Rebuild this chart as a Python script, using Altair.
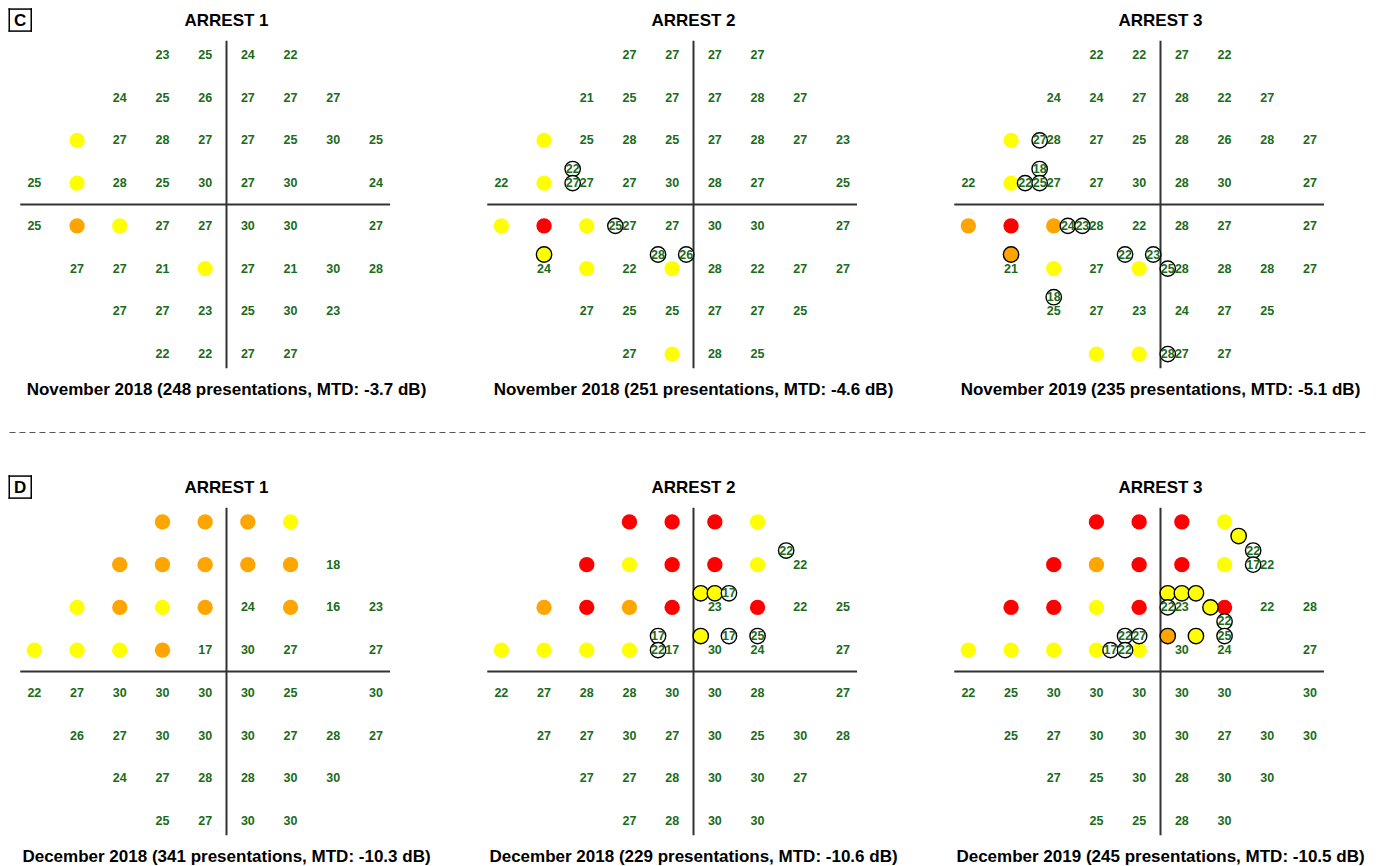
import altair as alt
import pandas as pd

# ---------------- data ----------------
# test-point rows of the field (grid units), top to bottom
ROW_Y = [3.5, 2.5, 1.5, 0.5, -0.5, -1.5, -2.5, -3.5]
ROW_X0 = [-1.5, -2.5, -3.5, -4.5, -4.5, -3.5, -2.5, -1.5]
N = None  # blind spot / not tested

# numbers = sensitivity (dB); "Y"/"O"/"R" = yellow / orange / red defect
P1_GRID = [
    [23, 25, 24, 22],
    [24, 25, 26, 27, 27, 27],
    ["Y", 27, 28, 27, 27, 25, 30, 25],
    [25, "Y", 28, 25, 30, 27, 30, N, 24],
    [25, "O", "Y", 27, 27, 30, 30, N, 27],
    [27, 27, 21, "Y", 27, 21, 30, 28],
    [27, 27, 23, 25, 30, 23],
    [22, 22, 27, 27],
]
P1_EXTRA = []

P2_GRID = [
    [27, 27, 27, 27],
    [21, 25, 27, 27, 28, 27],
    ["Y", 25, 28, 25, 27, 28, 27, 23],
    [22, "Y", 27, 27, 30, 28, 27, N, 25],
    ["Y", "R", "Y", 27, 27, 30, 30, N, 27],
    [24, "Y", 22, "Y", 28, 22, 27, 27],
    [27, 25, 25, 27, 27, 25],
    [27, "Y", 28, 25],
]
P2_EXTRA = [(-2.83, 0.83, 22), (-2.83, 0.5, 27), (-1.83, -0.5, 25),
            (-3.5, -1.17, "Y"), (-0.83, -1.17, 28), (-0.17, -1.17, 26)]

P3_GRID = [
    [22, 22, 27, 22],
    [24, 24, 27, 28, 22, 27],
    ["Y", 28, 27, 25, 28, 26, 28, 27],
    [22, "Y", 27, 27, 30, 28, 30, N, 27],
    ["O", "R", "O", 28, 22, 28, 27, N, 27],
    [21, "Y", 27, "Y", 28, 28, 28, 27],
    [25, 27, 23, 24, 27, 25],
    ["Y", "Y", 27, 27],
]
P3_EXTRA = [(-2.83, 1.5, 27), (-2.83, 0.83, 18), (-3.17, 0.5, 22), (-2.83, 0.5, 25),
            (-2.17, -0.5, 24), (-1.83, -0.5, 23), (-3.5, -1.17, "O"),
            (-0.83, -1.17, 22), (-0.17, -1.17, 23), (0.17, -1.5, 25),
            (-2.5, -2.17, 18), (0.17, -3.5, 28)]

P4_GRID = [
    ["O", "O", "O", "Y"],
    ["O", "O", "O", "O", "O", 18],
    ["Y", "O", "Y", "O", 24, "O", 16, 23],
    ["Y", "Y", "Y", "O", 17, 30, 27, N, 27],
    [22, 27, 30, 30, 30, 30, 25, N, 30],
    [26, 27, 30, 30, 30, 27, 28, 27],
    [24, 27, 28, 28, 30, 30],
    [25, 27, 30, 30],
]
P4_EXTRA = []

P5_GRID = [
    ["R", "R", "R", "Y"],
    ["R", "Y", "R", "R", "Y", 22],
    ["O", "R", "O", "R", 23, "R", 22, 25],
    ["Y", "Y", "Y", "Y", 17, 30, 24, N, 27],
    [22, 27, 28, 28, 30, 30, 28, N, 27],
    [27, 27, 30, 27, 30, 25, 30, 28],
    [27, 27, 28, 30, 30, 27],
    [27, 28, 30, 30],
]
P5_EXTRA = [(2.17, 2.83, 22), (0.17, 1.83, "Y"), (0.5, 1.83, "Y"), (0.83, 1.83, 17),
            (-0.83, 0.83, 17), (-0.83, 0.5, 22), (0.17, 0.83, "Y"),
            (0.83, 0.83, 17), (1.5, 0.83, 25)]

P6_GRID = [
    ["R", "R", "R", "Y"],
    ["R", "O", "R", "R", "Y", 22],
    ["R", "R", "Y", "R", 23, "R", 22, 28],
    ["Y", "Y", "Y", "Y", "Y", 30, 24, N, 27],
    [22, 25, 30, 30, 30, 30, 30, N, 30],
    [25, 27, 30, 30, 30, 27, 30, 30],
    [27, 25, 30, 28, 30, 30],
    [25, 25, 28, 30],
]
P6_EXTRA = [(1.83, 3.17, "Y"), (2.17, 2.83, 22), (2.17, 2.5, 17),
            (0.17, 1.83, "Y"), (0.5, 1.83, "Y"), (0.83, 1.83, "Y"),
            (0.17, 1.5, 22), (1.17, 1.5, "Y"), (1.5, 1.17, 22),
            (-0.83, 0.83, 22), (-0.5, 0.83, 27), (0.17, 0.83, "O"),
            (0.83, 0.83, "Y"), (1.5, 0.83, 25), (-1.17, 0.5, 17), (-0.83, 0.5, 22)]

TITLES = ["ARREST 1", "ARREST 2", "ARREST 3", "ARREST 1", "ARREST 2", "ARREST 3"]
SUBTITLES = [
    "November 2018 (248 presentations, MTD: -3.7 dB)",
    "November 2018 (251 presentations, MTD: -4.6 dB)",
    "November 2019 (235 presentations, MTD: -5.1 dB)",
    "December 2018 (341 presentations, MTD: -10.3 dB)",
    "December 2018 (229 presentations, MTD: -10.6 dB)",
    "December 2019 (245 presentations, MTD: -10.5 dB)",
]
PANEL_LABELS = ["C", None, None, "D", None, None]

# ---------------- style / layout ----------------
COLORS = {"Y": "#ffff00", "O": "#ffa500", "R": "#ff0000"}
GREEN = "#1a6b1a"
FONT = "Liberation Sans"
DOT = 236
K = 42.7                      # pixels per grid unit
W, H = 393, 359
XS = alt.Scale(domain=[-5, W / K - 5], nice=False, zero=False)
YS = alt.Scale(domain=[-4.2, 4.2], nice=False, zero=False)
TITLE_Y, SUB_Y = 4.176, -4.45
# panel-letter box (pixels relative to the panel centre)
BOX_CX, BOX_CY, BOX_HALF, BOX_LW = -206.25, 184.25, 11.75, 1.5


def panel(grid, extra, title, subtitle, label=None, separator=False):
    recs = []
    for ri, row in enumerate(grid):
        for ci, v in enumerate(row):
            if v is None:
                continue
            x, y = ROW_X0[ri] + ci, ROW_Y[ri]
            if isinstance(v, str):
                recs.append(dict(x=x, y=y, kind="dot", fill=COLORS[v], label=""))
            else:
                recs.append(dict(x=x, y=y, kind="num", fill="white", label=str(v)))
    for (x, y, v) in extra:
        if isinstance(v, str):
            recs.append(dict(x=x, y=y, kind="extra", fill=COLORS[v], label=""))
        else:
            recs.append(dict(x=x, y=y, kind="extra", fill="white", label=str(v)))
    df = pd.DataFrame(recs)

    X = alt.X("x:Q", scale=XS, axis=None)
    Y = alt.Y("y:Q", scale=YS, axis=None)

    axes_df = pd.DataFrame([
        dict(x=-4.83, x2=3.83, y=0, y2=0),
        dict(x=0, x2=0, y=-3.83, y2=3.83),
    ])
    axes = alt.Chart(axes_df).mark_rule(color="#333333", strokeWidth=2).encode(
        x=X, x2="x2:Q", y=Y, y2="y2:Q")

    base = alt.Chart(df)
    dots = base.transform_filter("datum.kind == 'dot'").mark_circle(
        size=DOT, opacity=1).encode(x=X, y=Y, color=alt.Color("fill:N", scale=None))
    nums = base.transform_filter("datum.kind == 'num'").mark_text(
        font=FONT, fontSize=12.5, fontWeight="bold", color=GREEN,
        baseline="middle", align="center").encode(x=X, y=Y, text="label:N")
    ext = base.transform_filter("datum.kind == 'extra'").mark_point(
        shape="circle", filled=True, size=DOT, stroke="black", strokeWidth=1.4,
        opacity=1, strokeOpacity=1).encode(x=X, y=Y, fill=alt.Fill("fill:N", scale=None))
    ext_t = base.transform_filter("datum.kind == 'extra' && datum.label != ''").mark_text(
        font=FONT, fontSize=12.5, fontWeight="bold", color=GREEN,
        baseline="middle", align="center").encode(x=X, y=Y, text="label:N")

    tdf = pd.DataFrame([dict(x=0, y=TITLE_Y, t=title), dict(x=0, y=SUB_Y, t=subtitle)])
    titles = alt.Chart(tdf).mark_text(
        font=FONT, fontSize=17, fontWeight="bold", color="black",
        baseline="alphabetic", align="center").encode(x=X, y=Y, text="t:N")

    layers = [axes, dots, nums, ext, ext_t, titles]

    if label is not None:
        l, r = (BOX_CX - BOX_HALF) / K, (BOX_CX + BOX_HALF) / K
        b, t = (BOX_CY - BOX_HALF) / K, (BOX_CY + BOX_HALF) / K
        lw = BOX_LW / K
        edges = pd.DataFrame([
            dict(x=l, x2=r, y=t - lw, y2=t),
            dict(x=l, x2=r, y=b, y2=b + lw),
            dict(x=l, x2=l + lw, y=b, y2=t),
            dict(x=r - lw, x2=r, y=b, y2=t),
        ])
        box = alt.Chart(edges).mark_rect(color="black", opacity=1).encode(
            x=X, x2="x2:Q", y=Y, y2="y2:Q")
        ldf = pd.DataFrame([dict(x=BOX_CX / K, y=BOX_CY / K, t=label)])
        letter = alt.Chart(ldf).mark_text(
            font=FONT, fontSize=17, fontWeight="bold", color="black",
            baseline="middle", align="center", dy=1).encode(x=X, y=Y, text="t:N")
        layers += [box, letter]

    if separator:
        sdf = pd.DataFrame([dict(k=1)])
        sep = alt.Chart(sdf).mark_rule(color="#555555", strokeWidth=1, strokeDash=[6, 4]).encode(
            x=alt.value(-3.5), x2=alt.value(1353.5), y=alt.value(407.5))
        layers.append(sep)

    return alt.layer(*layers).properties(width=W, height=H)


grids = [P1_GRID, P2_GRID, P3_GRID, P4_GRID, P5_GRID, P6_GRID]
extras = [P1_EXTRA, P2_EXTRA, P3_EXTRA, P4_EXTRA, P5_EXTRA, P6_EXTRA]

panels = [
    panel(grids[i], extras[i], TITLES[i], SUBTITLES[i], PANEL_LABELS[i], separator=(i == 0))
    for i in range(6)
]

chart = alt.concat(
    *panels, columns=3, spacing={"row": 467 - H, "column": 467 - W}, bounds="flush"
).properties(padding=0).configure_view(stroke=None)

chart.save("out.html", embed_options={"renderer": "svg", "actions": False})
